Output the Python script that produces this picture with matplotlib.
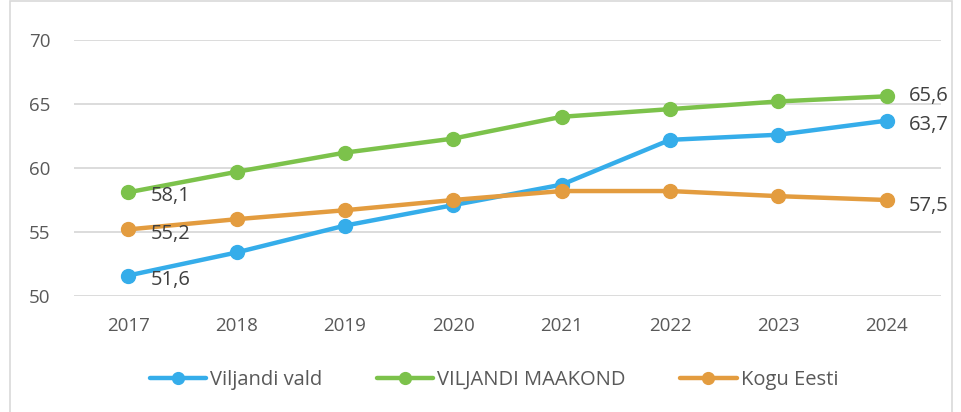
import matplotlib
matplotlib.use("Agg")
import matplotlib.pyplot as plt
from matplotlib.patches import Rectangle

years = ["2017", "2018", "2019", "2020", "2021", "2022", "2023", "2024"]
viljandi_vald = [51.6, 53.4, 55.5, 57.1, 58.7, 62.2, 62.6, 63.7]
viljandi_maakond = [58.1, 59.7, 61.2, 62.3, 64.0, 64.6, 65.2, 65.6]
kogu_eesti = [55.2, 56.0, 56.7, 57.5, 58.2, 58.2, 57.8, 57.5]
series_names = ["Viljandi vald", "VILJANDI MAAKOND", "Kogu Eesti"]
yticks = [50, 55, 60, 65, 70]

colors = ["#35ADEA", "#7CC24B", "#E39C3F"]
txt = "#595959"
plt.rcParams['font.family'] = ['Open Sans', 'DejaVu Sans']

fig = plt.figure(figsize=(9.62, 4.12), dpi=100)
ax = fig.add_axes([74/962, 1-296/412, (941-74)/962, (296-40)/412])

x = list(range(len(years)))
series = [viljandi_vald, viljandi_maakond, kogu_eesti]
for vals, name, c in zip(series, series_names, colors):
    ax.plot(x, vals, color=c, lw=3.2, marker='o', ms=10, label=name,
            solid_capstyle='round', zorder=3)

def fmt(v):
    return f"{v:.1f}".replace('.', ',')

# first-point labels
for vals in series:
    ax.annotate(fmt(vals[0]), (x[0], vals[0]), xytext=(16, -3), textcoords='offset points',
                ha='left', va='center', fontsize=14.5, color='#404040')
# last-point labels
last_offsets = [(16, -3), (16, 0), (16, -4)]
for vals, off in zip(series, last_offsets):
    ax.annotate(fmt(vals[-1]), (x[-1], vals[-1]), xytext=off, textcoords='offset points',
                ha='left', va='center', fontsize=14.5, color='#404040')

ax.set_xlim(-0.5, len(years) - 0.5)
ax.set_ylim(50, 70)
ax.set_yticks(yticks)
ax.set_yticklabels([str(t) for t in yticks])
ax.set_xticks(x)
ax.set_xticklabels(years)
ax.grid(axis='y', color='#D9D9D9', lw=1.3, zorder=0)
ax.set_axisbelow(True)
for s in ax.spines.values():
    s.set_visible(False)
ax.tick_params(axis='both', length=0, labelcolor=txt, labelsize=13.5)
ax.tick_params(axis='x', pad=15)
ax.tick_params(axis='y', pad=17)

fig.add_artist(Rectangle((10/962, -10/412), 942/962, 421/412, transform=fig.transFigure,
                         fill=False, edgecolor='#D9D9D9', lw=1.2))

leg = fig.legend(loc='center', bbox_to_anchor=(494/962, 1-380/412), ncol=3, frameon=False,
                 fontsize=14.5, handlelength=2.8, columnspacing=2.7, handletextpad=0.2,
                 markerscale=0.85)
for t in leg.get_texts():
    t.set_color(txt)

fig.savefig("out.png", dpi=100)
